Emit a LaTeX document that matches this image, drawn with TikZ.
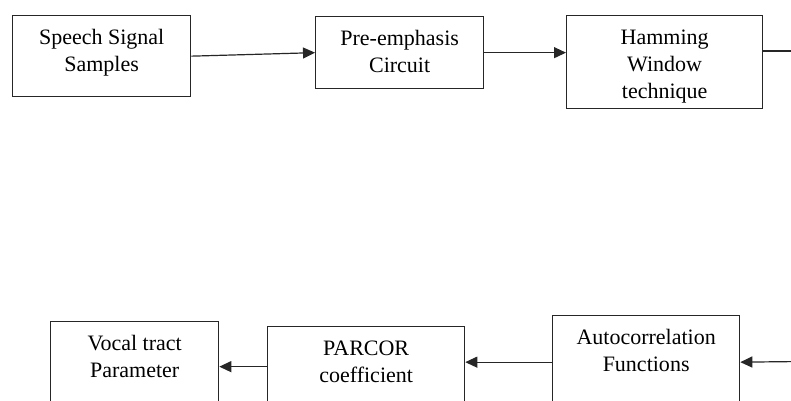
\documentclass[tikz,border=0pt]{standalone}
\usepackage{fontspec}
\setmainfont{Liberation Serif}
\usetikzlibrary{arrows.meta}

\begin{document}
\begin{tikzpicture}[x=1pt,y=-1pt,
    block/.style={draw=black!85, line width=1.3pt, align=center,
      anchor=north west, inner sep=0pt,
      font=\fontsize{22}{27}\selectfont, text height=56pt},
    link/.style={draw=black!85, line width=1.2pt},
    flow/.style={link, -{Triangle[length=12pt,width=11pt]}}]
  \useasboundingbox (0,0) rectangle (791,400);
  \clip (0,0) rectangle (791,400);
  % top row
  \node[block, minimum width=178pt, text depth=25pt] (speech) at (12,15) {Speech Signal\\Samples};
  \node[block, minimum width=168pt, text depth=16pt] (pre) at (315,16) {Pre-emphasis\\Circuit};
  \node[block, minimum width=196pt, text height=83pt, text depth=10pt] (ham) at (566,15) {Hamming\\Window\\technique};
  % bottom row
  \node[block, minimum width=168pt, text depth=60pt] (vocal) at (50,321) {Vocal tract\\Parameter};
  \node[block, minimum width=197pt, text depth=24pt] (parcor) at (267,326) {PARCOR\\coefficient};
  \node[block, minimum width=187pt, text depth=37pt] (auto) at (552,315) {Autocorrelation\\Functions};
  \coordinate (outR) at (800,51);
  \coordinate (inR) at (800,361.5);
  % connectors
  \draw[flow] (speech.east) -- (pre.west);
  \draw[flow] (pre.east) -- (pre.east -| ham.west);
  \draw[link] (ham.east |- outR) -- (outR);
  \draw[flow] (inR) -- (auto.east);
  \draw[flow] (auto.west) -- (auto.west -| parcor.east);
  \draw[flow] (parcor.west) -- (parcor.west -| vocal.east);
\end{tikzpicture}
\end{document}
